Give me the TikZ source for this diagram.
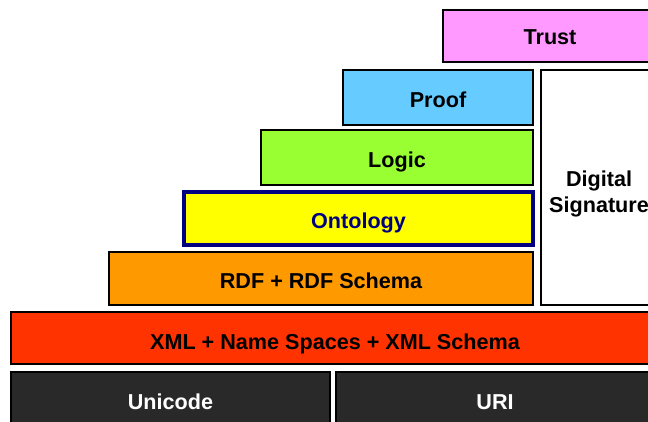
\documentclass[tikz,border=0pt]{standalone}
\usepackage{fontspec}
\setmainfont{Liberation Sans}
\definecolor{trustc}{HTML}{FF99FF}
\definecolor{proofc}{HTML}{66CCFF}
\definecolor{logicc}{HTML}{99FF33}
\definecolor{ontoc}{HTML}{FFFF00}
\definecolor{navyc}{HTML}{000080}
\definecolor{rdfc}{HTML}{FF9900}
\definecolor{xmlc}{HTML}{FF3300}
\definecolor{darkc}{HTML}{292929}
\tikzset{
  layer/.style={draw=black, line width=2pt, anchor=north west, inner sep=0pt, outer sep=0pt,
    font=\fontsize{21.6}{26}\selectfont\bfseries, align=center},
  lowtext/.style={text height=#1, text depth=0pt},
  lbl/.style={font=\fontsize{21.6}{26}\selectfont\bfseries, align=center, inner sep=0pt},
}
\begin{document}
\begin{tikzpicture}[x=1pt,y=-1pt]
\useasboundingbox (0,0) rectangle (648,422);
\clip (0,0) rectangle (648,422);
\node[layer, lowtext=18pt, fill=trustc, minimum width=214pt, minimum height=52pt] (trust) at (443,10) {Trust};
\node[layer, lowtext=20pt, fill=proofc, minimum width=190pt, minimum height=55pt] (proof) at (343,70) {Proof};
\node[layer, lowtext=20pt, fill=logicc, minimum width=272pt, minimum height=55pt] (logic) at (261,130) {Logic};
\node[layer, lowtext=20pt, fill=ontoc, draw=navyc, line width=3.5pt, text=navyc, minimum width=349pt, minimum height=53pt] (onto) at (184,192) {Ontology};
\node[layer, lowtext=19pt, fill=rdfc, minimum width=424pt, minimum height=53pt] (rdf) at (109,252) {RDF + RDF Schema};
\node[layer, fill=white, minimum width=116pt, minimum height=235pt] (ds) at (541,70) {};
\node[lbl] (dstext) at ([yshift=-6pt]ds.center) {Digital\\Signature};
\node[layer, lowtext=22pt, fill=xmlc, minimum width=648pt, minimum height=52pt] (xml) at (11,312) {XML + Name Spaces + XML Schema};
\node[layer, fill=darkc, text=white, minimum width=319pt, minimum height=60pt] (unicode) at (11,372) {Unicode};
\node[layer, fill=darkc, text=white, minimum width=318pt, minimum height=60pt] (uri) at (336,372) {URI};
\end{tikzpicture}
\end{document}
